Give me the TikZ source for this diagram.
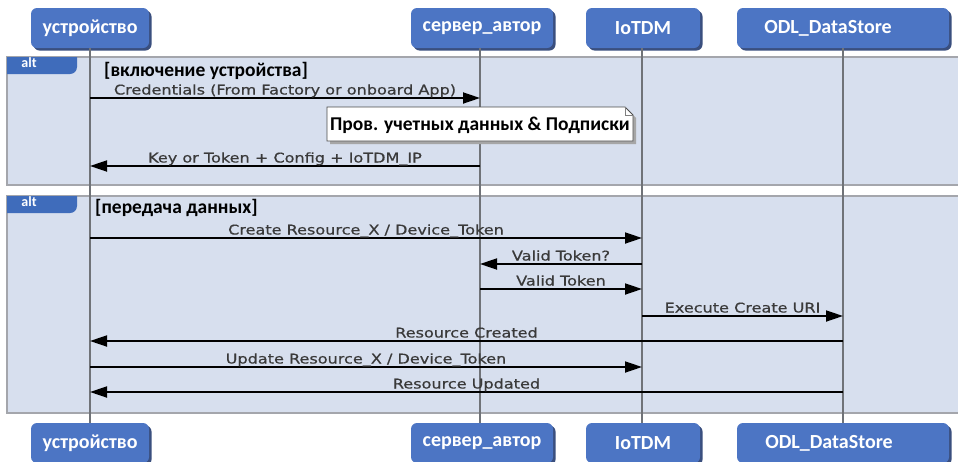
\documentclass[tikz,border=0pt]{standalone}
\usepackage{fontspec}
\usetikzlibrary{arrows.meta,calc}
\setmainfont{DejaVu Sans}
\newfontfamily\lblfont[FakeStretch=1.2,FakeBold=0.6]{DejaVu Sans}
\newfontfamily\hdrfont{Carlito}
\definecolor{hdrblue}{HTML}{4C75C4}
\definecolor{hdrshadow}{HTML}{3A4F7E}
\definecolor{framefill}{HTML}{D7DFEE}
\definecolor{frameline}{HTML}{A4A6AC}
\definecolor{tabblue}{HTML}{3F6CBB}
\definecolor{lifegray}{HTML}{707378}
\definecolor{lbltext}{HTML}{3A3A3A}
\tikzset{
  hdr/.style={fill=hdrblue, rounded corners=6pt, minimum height=40pt, inner sep=0pt,
    text=white, font=\hdrfont\bfseries\fontsize{20}{22}\selectfont},
  frame/.style={fill=framefill, draw=frameline, line width=1.4pt},
  life/.style={draw=lifegray, line width=1.3pt},
  msg/.style={draw=black, line width=1.8pt, -{Triangle[length=17pt,width=11pt]}},
  lbl/.style={text=lbltext, font=\lblfont\fontsize{13.4}{15}\selectfont, anchor=base, inner sep=0pt},
  guard/.style={text=black, font=\hdrfont\bfseries\fontsize{19.5}{22}\selectfont, anchor=west, inner sep=0pt},
  tabtext/.style={text=white, font=\hdrfont\bfseries\fontsize{14}{16}\selectfont, inner sep=0pt},
  notebox/.style={text=black, font=\hdrfont\bfseries\fontsize{19.5}{22}\selectfont, inner sep=0pt}
}
\begin{document}
\begin{tikzpicture}[x=1pt,y=-1pt]
\useasboundingbox (0,0) rectangle (958,461);
\fill[white] (0,0) rectangle (958,461);
% frames
\draw[frame] (7,57) rectangle (970,185);
\draw[frame] (7,196) rectangle (970,413);
% alt tabs
\begin{scope}
  \clip (7,57) rectangle (77,74);
  \fill[tabblue, rounded corners=7pt] (-20,40) rectangle (77,74);
\end{scope}
\begin{scope}
  \clip (7,196) rectangle (77,213);
  \fill[tabblue, rounded corners=7pt] (-20,180) rectangle (77,213);
\end{scope}
\node[tabtext] (alt1) at (29,63) {alt};
\node[tabtext] (alt2) at (29,202) {alt};
% header shadows
\foreach \cx/\w/\yy in {90/118/28, 482/142/28, 643/114/28, 843/212/28,
                        90/118/443, 482/142/443, 643/114/443, 843/212/443}{
  \fill[hdrshadow, rounded corners=6pt] (\cx-\w/2+2.5,\yy-20+2.5) rectangle (\cx+\w/2+2.5,\yy+20+2.5);
}
% headers
\node[hdr, minimum width=118pt] (dT) at (90,28) {устройство};
\node[hdr, minimum width=142pt] (sT) at (482,28) {сервер\_автор};
\node[hdr, minimum width=114pt] (iT) at (643,28) {IoTDM};
\node[hdr, minimum width=212pt] (oT) at (843,28) {ODL\_DataStore\kern30pt};
\node[hdr, minimum width=118pt] (dB) at (90,443) {устройство};
\node[hdr, minimum width=142pt] (sB) at (482,443) {сервер\_автор};
\node[hdr, minimum width=114pt] (iB) at (643,443) {IoTDM};
\node[hdr, minimum width=212pt] (oB) at (843,443) {ODL\_DataStore\kern28pt};
% lifelines
\coordinate (dL) at (90,0);
\coordinate (sL) at (480,0);
\coordinate (iL) at (642,0);
\coordinate (oL) at (843,0);
\draw[life] (dL |- dT.south) -- (dL |- dB.north);
\draw[life] (sL |- sT.south) -- (sL |- sB.north);
\draw[life] (iL |- iT.south) -- (iL |- iB.north);
\draw[life] (oL |- oT.south) -- (oL |- oB.north);
% guards
\node[guard] (g1) at (104,71) {[включение устройства]};
\node[guard] (g2) at (95,208) {[передача данных]};
% frame 1 messages
\draw[msg] (dL |- 0,98) -- node[lbl, yshift=3.5pt] {Credentials (From Factory or onboard App)} (sL |- 0,98);
% note
\fill[black!35] (330,110) -- (628,110) -- (636,118) -- (636,144) -- (330,144) -- cycle;
\draw[fill=white, draw=black!70, line width=0.8pt] (327,107) -- (625,107) -- (633,115) -- (633,141) -- (327,141) -- cycle;
\draw[draw=black!50, line width=0.6pt] (625,107) -- (625,115) -- (633,115);
\node[notebox] (note) at (480,125) {Пров. учетных данных \& Подписки};
\draw[msg] (sL |- 0,166) -- node[lbl, yshift=3.5pt] {Key or Token + Config + IoTDM\_IP} (dL |- 0,166);
% frame 2 messages
\draw[msg] (dL |- 0,238) -- node[lbl, yshift=3.5pt] {Create Resource\_X / Device\_Token} (iL |- 0,238);
\draw[msg] (iL |- 0,264) -- node[lbl, yshift=3.5pt] {Valid Token?} (sL |- 0,264);
\draw[msg] (sL |- 0,289) -- node[lbl, yshift=3.5pt] {Valid Token} (iL |- 0,289);
\draw[msg] (iL |- 0,316) -- node[lbl, yshift=3.5pt] {Execute Create URI} (oL |- 0,316);
\draw[msg] (oL |- 0,341) -- node[lbl, yshift=3.5pt] {Resource Created} (dL |- 0,341);
\draw[msg] (dL |- 0,367) -- node[lbl, yshift=3.5pt] {Update Resource\_X / Device\_Token} (iL |- 0,367);
\draw[msg] (oL |- 0,392) -- node[lbl, yshift=3.5pt] {Resource Updated} (dL |- 0,392);
\end{tikzpicture}
\end{document}
